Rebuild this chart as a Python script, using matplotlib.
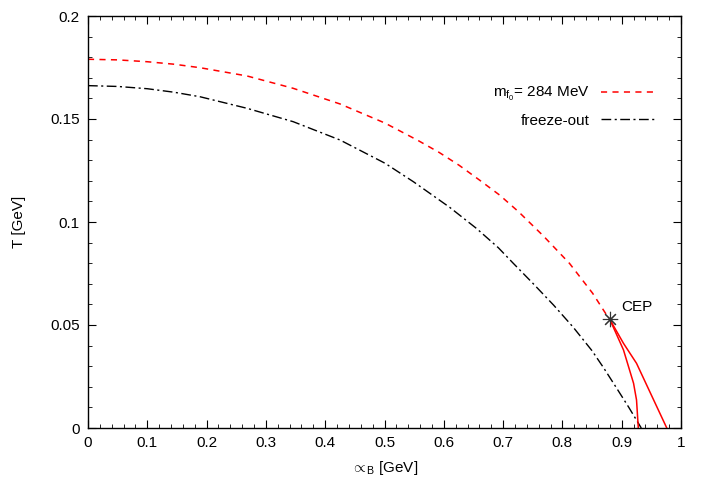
import matplotlib
matplotlib.use("Agg")
from matplotlib import pyplot as plt
from matplotlib.ticker import MultipleLocator

plt.rcParams['font.family'] = ['Liberation Sans', 'DejaVu Sans']
plt.rcParams['mathtext.fontset'] = 'custom'
plt.rcParams['mathtext.rm'] = 'Liberation Sans'
plt.rcParams['mathtext.it'] = 'Liberation Sans'

# crossover line, m_f0 = 284 MeV (dashed)
mu_cross = [0.0, 0.05, 0.1, 0.145, 0.189, 0.268, 0.346, 0.425, 0.501, 0.557,
            0.592, 0.626, 0.660, 0.694, 0.726, 0.768, 0.812, 0.851, 0.872,
            0.880]
t_cross = [0.1790, 0.1787, 0.1778, 0.1766, 0.1749, 0.1709, 0.1649, 0.1573,
           0.1480, 0.1395, 0.1338, 0.1275, 0.1204, 0.1131, 0.1050, 0.0932,
           0.0799, 0.0654, 0.0560, 0.0527]

# freeze-out curve
mu_fo = [0.0, 0.05, 0.1, 0.145, 0.189, 0.268, 0.346, 0.425, 0.501, 0.549,
         0.610, 0.655, 0.692, 0.717, 0.751, 0.785, 0.818, 0.850, 0.870,
         0.890, 0.912, 0.933]
t_fo = [0.1662, 0.1658, 0.1647, 0.1630, 0.1608, 0.1552, 0.1487, 0.1398,
        0.1285, 0.1195, 0.1071, 0.0969, 0.0875, 0.0800, 0.0700, 0.0597,
        0.0490, 0.0375, 0.0290, 0.0200, 0.0100, 0.0]

# first order (spinodal) lines below the CEP
mu_sp1 = [0.880, 0.903, 0.920, 0.925, 0.928]
t_sp1 = [0.0527, 0.0379, 0.0217, 0.0136, 0.0]
mu_sp2 = [0.880, 0.903, 0.925, 0.950, 0.976]
t_sp2 = [0.0527, 0.0411, 0.0314, 0.0160, 0.0]

cep_mu, cep_t = 0.880, 0.0527

fig = plt.figure(figsize=(7.06, 4.94), dpi=100)
ax = fig.add_axes([88 / 706, 1 - 428 / 494, 593 / 706, 412 / 494])

ax.plot(mu_cross, t_cross, c='red', lw=1.1, dashes=(4, 3.5),
        label='m$_{f_0}$= 284 MeV')
ax.plot(mu_fo, t_fo, c='black', lw=1.0, dashes=(7, 2.5, 1.5, 2.5),
        label='freeze-out')
ax.plot(mu_sp1, t_sp1, c='red', lw=1.1)
ax.plot(mu_sp2, t_sp2, c='red', lw=1.1)
ax.plot([cep_mu], [cep_t], ls='none', marker=(8, 2, 0), ms=11,
        mec='#333333', mew=0.8)
ax.text(0.899, 0.0587, 'CEP', fontsize=11, va='center')

ax.set_xlim(0, 1)
ax.set_ylim(0, 0.2)
ax.xaxis.set_major_locator(MultipleLocator(0.1))
ax.xaxis.set_minor_locator(MultipleLocator(0.02))
ax.yaxis.set_major_locator(MultipleLocator(0.05))
ax.yaxis.set_minor_locator(MultipleLocator(0.01))
ax.xaxis.set_major_formatter(plt.FuncFormatter(lambda v, p: f'{v:g}'))
ax.yaxis.set_major_formatter(plt.FuncFormatter(lambda v, p: f'{v:g}'))
ax.tick_params(which='both', direction='in', top=True, right=True,
               labelsize=11, pad=6)
ax.tick_params(which='major', length=6, width=0.8)
ax.tick_params(which='minor', length=3, width=0.6)
for s in ax.spines.values():
    s.set_linewidth(1.0)

ax.set_xlabel('$\\propto_{\\!\\mathrm{B}}$ [GeV]', fontsize=11, labelpad=6)
ax.set_ylabel('T [GeV]', fontsize=11, labelpad=17)

ax.legend(loc='upper right', bbox_to_anchor=(0.957, 0.832), frameon=False,
          markerfirst=False, handlelength=3.6, handletextpad=0.72,
          labelspacing=0.68, borderpad=0, borderaxespad=0, fontsize=11)

fig.savefig('out.png', dpi=100)
